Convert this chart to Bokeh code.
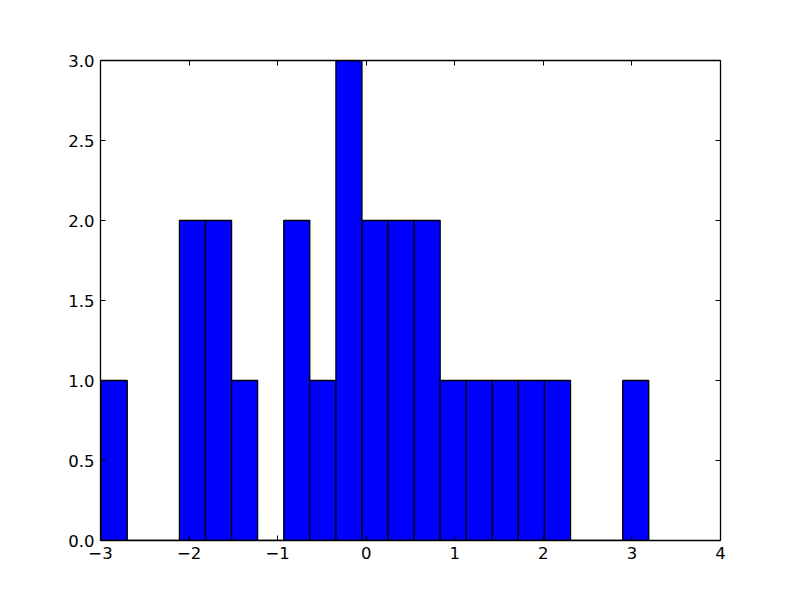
from bokeh.plotting import figure
from bokeh.models import Range1d, LinearAxis, FixedTicker, CustomJSTickFormatter, ColumnDataSource
from bokeh.embed import file_html
from bokeh.resources import INLINE

# Histogram data (21 bins)
bin_edges = [-2.992, -2.698, -2.403, -2.109, -1.814, -1.520, -1.226, -0.931,
             -0.637, -0.342, -0.048, 0.246, 0.541, 0.835, 1.130, 1.424,
             1.718, 2.013, 2.307, 2.602, 2.896, 3.190]
counts = [1, 0, 0, 2, 2, 1, 0, 2, 1, 3, 2, 2, 2, 1, 1, 1, 1, 1, 0, 0, 1]

x_ticks = [-3, -2, -1, 0, 1, 2, 3, 4]
y_ticks = [0.0, 0.5, 1.0, 1.5, 2.0, 2.5, 3.0]

src = ColumnDataSource(dict(left=bin_edges[:-1], right=bin_edges[1:],
                            top=counts, bottom=[0] * len(counts)))

p = figure(frame_width=620, frame_height=480, width=792, height=592,
           min_border_left=100, min_border_right=72, min_border_top=60, min_border_bottom=52,
           x_range=Range1d(-3, 4), y_range=Range1d(0, 3),
           output_backend="svg", toolbar_location=None, tools="",
           x_axis_location=None, y_axis_location=None)
p.grid.visible = False
p.outline_line_color = None
p.background_fill_color = "white"
p.border_fill_color = "white"

p.quad(left="left", right="right", top="top", bottom="bottom", source=src,
       fill_color="#0000ff", line_color="black", line_width=1.3)

xfmt = CustomJSTickFormatter(code="return (tick < 0 ? '\\u2212' : '') + Math.abs(tick).toFixed(0);")
yfmt = CustomJSTickFormatter(code="return tick.toFixed(1);")

font = "DejaVu Sans"
fsize = "16.5px"

def make_axis(fmt, labels):
    ax = LinearAxis(ticker=FixedTicker(ticks=x_ticks if fmt is xfmt else y_ticks),
                    formatter=fmt)
    ax.axis_line_color = "black"
    ax.axis_line_width = 1.3
    ax.major_tick_in = 5
    ax.major_tick_out = 0
    ax.major_tick_line_color = "black"
    ax.minor_tick_line_color = None
    ax.major_label_text_font = font
    ax.major_label_text_font_size = fsize
    ax.major_label_text_color = "black"
    ax.major_label_standoff = 6
    if not labels:
        ax.major_label_text_font_size = "0px"
        ax.major_label_text_alpha = 0
    return ax

p.add_layout(make_axis(xfmt, True), "below")
p.add_layout(make_axis(xfmt, False), "above")
p.add_layout(make_axis(yfmt, True), "left")
p.add_layout(make_axis(yfmt, False), "right")

open("out.html", "w").write(file_html(p, INLINE))
